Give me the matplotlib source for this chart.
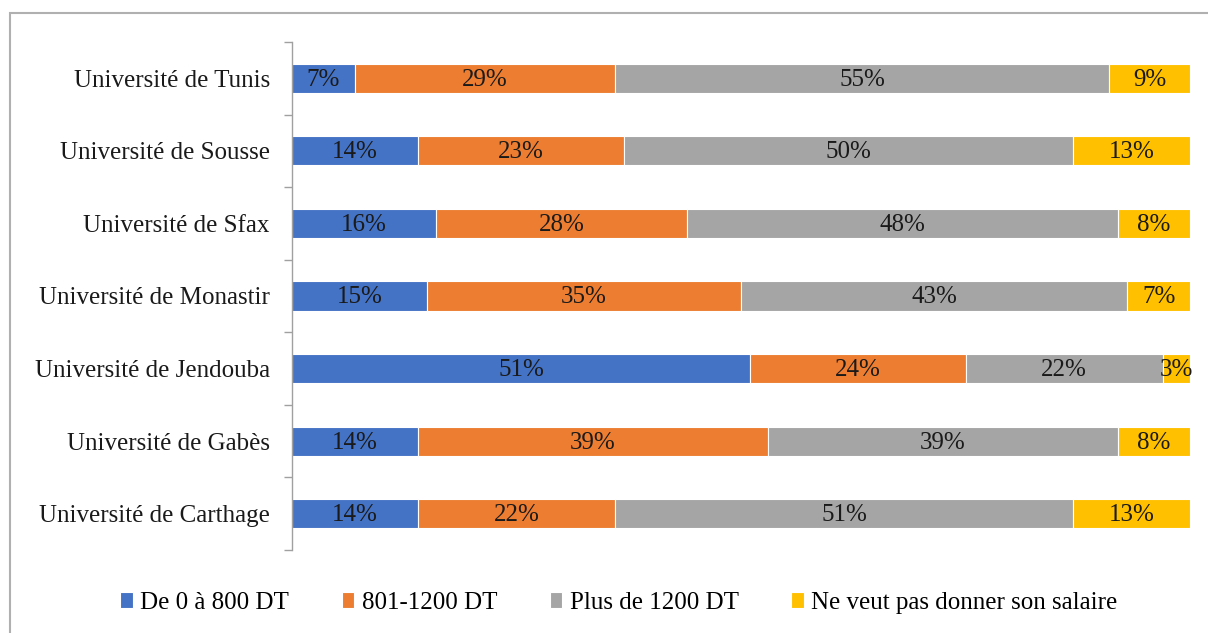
import matplotlib
matplotlib.use("Agg")
import matplotlib.pyplot as plt
from matplotlib.patches import Rectangle
import numpy as np

plt.rcParams['font.family'] = ['Liberation Serif', 'DejaVu Serif']

universities = ["Université de Carthage", "Université de Gabès", "Université de Jendouba",
                "Université de Monastir", "Université de Sfax", "Université de Sousse",
                "Université de Tunis"]
series_names = ["De 0 à 800 DT", "801-1200 DT", "Plus de 1200 DT", "Ne veut pas donner son salaire"]
s_0_800 = [14, 14, 51, 15, 16, 14, 7]
s_801_1200 = [22, 39, 24, 35, 28, 23, 29]
s_plus_1200 = [51, 39, 22, 43, 48, 50, 55]
s_refus = [13, 8, 3, 7, 8, 13, 9]
colors = ["#4472C4", "#ED7D31", "#A5A5A5", "#FFC000"]

W, H = 1208, 633
FS = 18
fig = plt.figure(figsize=(W / 100, H / 100), dpi=100)
ax = fig.add_axes([292 / W, 1 - 550 / H, (1190 - 292) / W, (550 - 42) / H])

y = np.arange(len(universities))
left = np.zeros(len(universities))
for name, vals, c in zip(series_names, [s_0_800, s_801_1200, s_plus_1200, s_refus], colors):
    vals = np.array(vals, dtype=float)
    ax.barh(y, vals, left=left, height=0.4, color=c, edgecolor="white",
            linewidth=0.8, label=name)
    for yi, l, v in zip(y, left, vals):
        ax.text(l + v / 2, yi - 0.02, f"{int(v)}%", ha="center", va="center",
                fontsize=FS, color="#1a1a1a")
    left += vals

ax.set_xlim(0, 100)
ax.set_ylim(-0.5, len(universities) - 0.5)
ax.set_yticks(y)
ax.set_yticklabels(universities, fontsize=FS, color="#1a1a1a")
ax.tick_params(axis="y", which="major", length=0, pad=16)
ax.set_yticks(np.arange(-0.5, len(universities), 1), minor=True)
ax.tick_params(axis="y", which="minor", length=6, color="#A0A0A0", width=1)
ax.set_xticks([])
for s in ["top", "right", "bottom"]:
    ax.spines[s].set_visible(False)
ax.spines["left"].set_color("#A0A0A0")
ax.spines["left"].set_linewidth(1)

handles, labels = ax.get_legend_handles_labels()
fig.legend(handles, labels, loc="center", bbox_to_anchor=(0.5 + 15 / W, 1 - 603 / H),
           ncol=4, frameon=False, fontsize=FS, handlelength=0.5,
           handleheight=0.6, handletextpad=0.3, columnspacing=2.1)

# outer border (top and left visible, right/bottom beyond image)
fig.add_artist(Rectangle((10 / W, -0.05), 1.2, 1 - 13 / H + 0.05, transform=fig.transFigure,
                         fill=False, edgecolor="#B0B0B0", linewidth=1.5, clip_on=False))

fig.savefig("out.png", dpi=100)
